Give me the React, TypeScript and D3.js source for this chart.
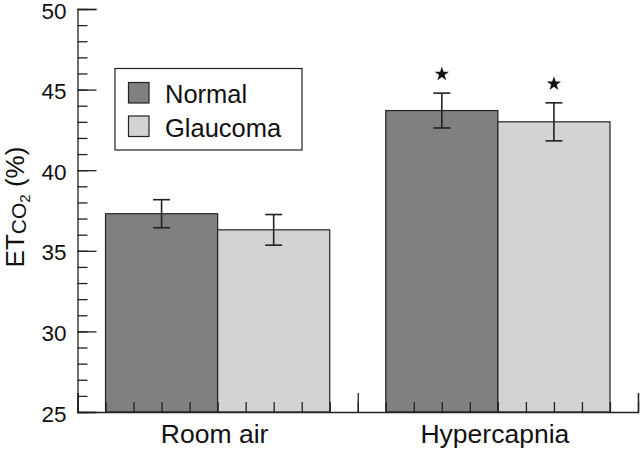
import React, { useEffect, useRef } from 'react';
import * as d3 from 'd3';

const categories = ['Room air', 'Hypercapnia'];
const groups = ['Normal', 'Glaucoma'];
const normalMean = [37.3, 43.7];
const normalErr = [0.87, 1.08];
const glaucomaMean = [36.3, 43.0];
const glaucomaErr = [0.95, 1.18];
const starred = [false, true];
const yTicks = [25, 30, 35, 40, 45, 50];

const groupColors = ['#808080', '#d2d3d2'];

export default function App() {
  const svgRef = useRef<SVGSVGElement>(null);

  useEffect(() => {
    const svg = d3.select(svgRef.current);
    svg.selectAll('*').remove();

    const font = '"Liberation Sans", Arial, Helvetica, sans-serif';
    const x = d3.scaleLinear().domain([0, 2]).range([77.5, 638]);
    const y = d3.scaleLinear().domain([25, 50]).range([412, 9]);

    const xCat = d3.scaleBand<string>()
      .domain(categories)
      .range([x(0), x(2)])
      .paddingInner(0.2)
      .paddingOuter(0.1);
    const xGroup = d3.scaleBand<string>()
      .domain(groups)
      .range([0, xCat.bandwidth()]);

    const rows = categories.flatMap((c, i) => [
      { cat: c, group: groups[0], mean: normalMean[i], err: normalErr[i], star: starred[i], color: groupColors[0] },
      { cat: c, group: groups[1], mean: glaucomaMean[i], err: glaucomaErr[i], star: starred[i], color: groupColors[1] },
    ]);

    // bars
    svg.append('g')
      .selectAll('rect')
      .data(rows)
      .enter()
      .append('rect')
      .attr('x', d => xCat(d.cat)! + xGroup(d.group)!)
      .attr('y', d => y(d.mean))
      .attr('width', xGroup.bandwidth())
      .attr('height', d => y(25) - y(d.mean))
      .attr('fill', d => d.color)
      .attr('stroke', '#222')
      .attr('stroke-width', 1.2);

    // axes (ticks point inward, drawn over the bars)
    const yMinor = d3.axisLeft(y).ticks(25).tickSize(-10).tickFormat(() => '');
    svg.append('g').attr('transform', `translate(${x(0)},0)`).call(yMinor)
      .call(g => g.select('.domain').remove());
    const yMajor = d3.axisLeft(y).tickValues(yTicks).tickSize(-19).tickPadding(11)
      .tickFormat(d3.format('d'));
    svg.append('g').attr('transform', `translate(${x(0)},0)`).call(yMajor)
      .call(g => g.selectAll('text')
        .attr('font-family', font).attr('font-size', 22.5).attr('fill', '#111').attr('dy', '0.4em'));

    const xMinor = d3.axisBottom(x).ticks(20).tickSize(-10).tickFormat(() => '');
    svg.append('g').attr('transform', `translate(0,${y(25)})`).call(xMinor)
      .call(g => g.select('.domain').remove());
    const xMajor = d3.axisBottom(x).tickValues([0, 1, 2]).tickSize(-19).tickFormat(() => '');
    svg.append('g').attr('transform', `translate(0,${y(25)})`).call(xMajor);

    svg.selectAll('.domain, .tick line').attr('stroke', '#222').attr('stroke-width', 1.3);

    // category labels
    svg.append('g')
      .selectAll('text')
      .data(categories)
      .enter()
      .append('text')
      .attr('x', d => xCat(d)! + xCat.bandwidth() / 2 - 3)
      .attr('y', 442.5)
      .attr('text-anchor', 'middle')
      .attr('font-family', font)
      .attr('font-size', 26.5)
      .attr('fill', '#111')
      .text(d => d);

    // error bars
    const capW = 17;
    const eb = svg.append('g').attr('stroke', '#222').attr('stroke-width', 1.6);
    rows.forEach(d => {
      const cx = xCat(d.cat)! + xGroup(d.group)! + xGroup.bandwidth() / 2;
      const yt = y(d.mean + d.err);
      const yb = y(d.mean - d.err);
      eb.append('line').attr('x1', cx).attr('x2', cx).attr('y1', yt).attr('y2', yb);
      eb.append('line').attr('x1', cx - capW / 2).attr('x2', cx + capW / 2).attr('y1', yt).attr('y2', yt);
      eb.append('line').attr('x1', cx - capW / 2).attr('x2', cx + capW / 2).attr('y1', yb).attr('y2', yb);
    });

    // significance stars
    const star = d3.symbol().type(d3.symbolStar).size(64);
    svg.append('g')
      .selectAll('path')
      .data(rows.filter(d => d.star))
      .enter()
      .append('path')
      .attr('d', star)
      .attr('fill', '#111')
      .attr('transform', d => {
        const cx = xCat(d.cat)! + xGroup(d.group)! + xGroup.bandwidth() / 2;
        return `translate(${cx},${y(d.mean + d.err) - 19})`;
      });

    // legend
    const lg = svg.append('g');
    lg.append('rect')
      .attr('x', 115).attr('y', 68.5).attr('width', 187).attr('height', 81.5)
      .attr('fill', '#fff').attr('stroke', '#222').attr('stroke-width', 1.2);
    groups.forEach((gname, i) => {
      const top = 82.5 + i * 33.5;
      lg.append('rect')
        .attr('x', 128.5).attr('y', top).attr('width', 20.5).attr('height', 20.5)
        .attr('fill', groupColors[i]).attr('stroke', '#222').attr('stroke-width', 1.2);
      lg.append('text')
        .attr('x', 165).attr('y', top + 20.5)
        .attr('font-family', font).attr('font-size', 25.5).attr('fill', '#111')
        .text(gname);
    });

    // y label
    const yl = svg.append('text')
      .attr('transform', 'translate(24,207) rotate(-90)')
      .attr('text-anchor', 'middle')
      .attr('font-family', font)
      .attr('fill', '#111');
    yl.append('tspan').attr('font-size', 26).text('ET');
    yl.append('tspan').attr('font-size', 21).attr('dy', 2).text('CO');
    yl.append('tspan').attr('font-size', 15).attr('dy', 4).text('2');
    yl.append('tspan').attr('font-size', 26).attr('dy', -6).text(' (%)');
  }, []);

  return (
    <svg
      ref={svgRef}
      width={640}
      height={449}
      style={{ position: 'absolute', left: 0, top: 0, background: '#fff', display: 'block' }}
    />
  );
}
